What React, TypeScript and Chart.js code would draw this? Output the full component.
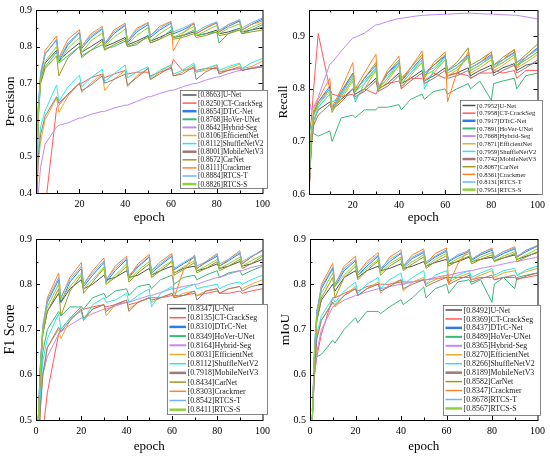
import { useEffect, useRef } from 'react'
import { Chart, registerables } from 'chart.js'

Chart.register(...registerables)

const epochs = [1, 2, 3, 5, 10, 11, 15, 20, 21, 25, 30, 31, 35, 40, 41, 45, 50, 51, 55, 60, 61, 65, 70, 71, 75, 80, 81, 85, 90, 91, 95, 100]

const models = ['U-Net', 'CT-CrackSeg', 'DTrC-Net', 'HoVer-UNet', 'Hybrid-Seg', 'EfficientNet', 'ShuffleNetV2', 'MobileNetV3', 'CarNet', 'Crackmer', 'RTCS-T', 'RTCS-S']

const seriesColors = ['#505050', '#ff5a5a', '#2f7ce8', '#3cb878', '#c08af0', '#e3ae2f', '#2ee6e6', '#a07878', '#9a9a22', '#ff8426', '#72b4f2', '#8ed23a']
const legendWidths = [1.5, 1.5, 2.5, 2, 2, 1.5, 1.5, 2.5, 1.5, 1.5, 1.5, 2.5]

const precisionScores = ['0.8663', '0.8250', '0.8654', '0.8768', '0.8642', '0.8106', '0.8112', '0.8001', '0.8672', '0.8111', '0.8884', '0.8826']
const recallScores = ['0.7952', '0.7958', '0.7917', '0.7891', '0.7668', '0.7871', '0.7959', '0.7742', '0.8087', '0.8361', '0.8131', '0.7951']
const f1Scores = ['0.8347', '0.8135', '0.8310', '0.8349', '0.8164', '0.8031', '0.8112', '0.7918', '0.8434', '0.8303', '0.8542', '0.8411']
const miouScores = ['0.8492', '0.8369', '0.8437', '0.8489', '0.8365', '0.8270', '0.8266', '0.8189', '0.8582', '0.8347', '0.8678', '0.8567']

// Precision
const pUNet = [0.38, 0.63, 0.71, 0.755, 0.79, 0.76, 0.785, 0.81, 0.785, 0.8, 0.82, 0.8, 0.81, 0.825, 0.805, 0.815, 0.83, 0.815, 0.825, 0.84, 0.825, 0.83, 0.84, 0.83, 0.835, 0.845, 0.835, 0.84, 0.85, 0.84, 0.845, 0.852]
const pCTCrackSeg = [0.2, 0.25, 0.3, 0.36, 0.632, 0.64, 0.67, 0.7, 0.7, 0.715, 0.725, 0.715, 0.725, 0.735, 0.725, 0.73, 0.73, 0.72, 0.73, 0.74, 0.765, 0.735, 0.74, 0.735, 0.74, 0.74, 0.73, 0.735, 0.74, 0.735, 0.74, 0.745]
const pDTrCNet = [0.38, 0.63, 0.72, 0.78, 0.818, 0.76, 0.805, 0.838, 0.795, 0.825, 0.848, 0.805, 0.835, 0.858, 0.81, 0.84, 0.86, 0.825, 0.845, 0.864, 0.835, 0.845, 0.862, 0.835, 0.85, 0.865, 0.84, 0.855, 0.87, 0.845, 0.86, 0.875]
const pHoVerUNet = [0.38, 0.6, 0.7, 0.745, 0.785, 0.755, 0.775, 0.8, 0.775, 0.79, 0.805, 0.795, 0.8, 0.815, 0.8, 0.805, 0.83, 0.81, 0.82, 0.845, 0.825, 0.83, 0.845, 0.83, 0.835, 0.84, 0.81, 0.835, 0.85, 0.835, 0.845, 0.86]
const pHybridSeg = [0.3, 0.4, 0.47, 0.534, 0.58, 0.585, 0.592, 0.605, 0.605, 0.615, 0.623, 0.623, 0.632, 0.64, 0.64, 0.65, 0.663, 0.663, 0.672, 0.681, 0.681, 0.69, 0.699, 0.699, 0.708, 0.717, 0.717, 0.726, 0.735, 0.735, 0.742, 0.748]
const pEfficientNet = [0.33, 0.48, 0.54, 0.6, 0.66, 0.62, 0.665, 0.7, 0.675, 0.7, 0.725, 0.68, 0.71, 0.735, 0.69, 0.72, 0.74, 0.71, 0.73, 0.75, 0.72, 0.73, 0.75, 0.73, 0.735, 0.75, 0.73, 0.74, 0.752, 0.74, 0.745, 0.76]
const pShuffleNetV2 = [0.35, 0.52, 0.58, 0.625, 0.695, 0.65, 0.69, 0.722, 0.69, 0.715, 0.738, 0.705, 0.725, 0.75, 0.715, 0.73, 0.745, 0.715, 0.735, 0.75, 0.725, 0.735, 0.755, 0.73, 0.74, 0.75, 0.735, 0.745, 0.755, 0.74, 0.755, 0.768]
const pMobileNetV3 = [0.34, 0.5, 0.56, 0.61, 0.663, 0.645, 0.67, 0.7, 0.68, 0.695, 0.72, 0.7, 0.71, 0.725, 0.695, 0.715, 0.74, 0.71, 0.725, 0.745, 0.72, 0.725, 0.745, 0.71, 0.73, 0.745, 0.725, 0.735, 0.745, 0.735, 0.74, 0.745]
const pCarNet = [0.38, 0.61, 0.7, 0.74, 0.775, 0.72, 0.77, 0.8, 0.77, 0.79, 0.815, 0.79, 0.805, 0.82, 0.8, 0.81, 0.825, 0.81, 0.82, 0.835, 0.82, 0.825, 0.835, 0.825, 0.83, 0.84, 0.83, 0.835, 0.845, 0.835, 0.84, 0.845]
const pCrackmer = [0.38, 0.62, 0.72, 0.79, 0.829, 0.77, 0.82, 0.846, 0.8, 0.835, 0.855, 0.805, 0.845, 0.864, 0.815, 0.85, 0.866, 0.83, 0.855, 0.869, 0.788, 0.835, 0.864, 0.835, 0.85, 0.866, 0.84, 0.86, 0.872, 0.845, 0.86, 0.87]
const pRTCST = [0.38, 0.64, 0.73, 0.78, 0.82, 0.765, 0.81, 0.84, 0.8, 0.83, 0.85, 0.81, 0.84, 0.86, 0.815, 0.845, 0.865, 0.83, 0.85, 0.868, 0.84, 0.85, 0.865, 0.84, 0.855, 0.868, 0.845, 0.86, 0.874, 0.85, 0.865, 0.878]
const pRTCSS = [0.38, 0.62, 0.71, 0.76, 0.8, 0.755, 0.795, 0.825, 0.785, 0.815, 0.838, 0.8, 0.825, 0.848, 0.805, 0.83, 0.852, 0.815, 0.835, 0.855, 0.825, 0.838, 0.855, 0.83, 0.842, 0.858, 0.835, 0.85, 0.862, 0.84, 0.852, 0.865]

// Recall
const rUNet = [0.6, 0.7, 0.74, 0.76, 0.775, 0.765, 0.78, 0.8, 0.79, 0.8, 0.82, 0.8, 0.81, 0.83, 0.81, 0.82, 0.835, 0.815, 0.825, 0.84, 0.825, 0.83, 0.84, 0.825, 0.835, 0.845, 0.83, 0.84, 0.848, 0.835, 0.845, 0.85]
const rCTCrackSeg = [0.72, 0.74, 0.8, 0.905, 0.8, 0.79, 0.785, 0.79, 0.78, 0.8, 0.79, 0.8, 0.81, 0.815, 0.805, 0.82, 0.82, 0.815, 0.83, 0.82, 0.825, 0.83, 0.825, 0.82, 0.83, 0.83, 0.835, 0.83, 0.835, 0.82, 0.835, 0.835]
const rDTrCNet = [0.61, 0.71, 0.75, 0.775, 0.805, 0.76, 0.795, 0.83, 0.795, 0.82, 0.845, 0.8, 0.83, 0.85, 0.815, 0.835, 0.86, 0.825, 0.845, 0.862, 0.835, 0.845, 0.865, 0.84, 0.85, 0.865, 0.845, 0.855, 0.87, 0.845, 0.86, 0.878]
const rHoVerUNet = [0.74, 0.72, 0.715, 0.71, 0.72, 0.7, 0.745, 0.75, 0.745, 0.76, 0.76, 0.765, 0.765, 0.77, 0.76, 0.78, 0.79, 0.78, 0.795, 0.8, 0.79, 0.8, 0.81, 0.8, 0.815, 0.778, 0.81, 0.815, 0.82, 0.8, 0.825, 0.83]
const rHybridSeg = [0.78, 0.76, 0.765, 0.784, 0.847, 0.85, 0.872, 0.897, 0.898, 0.906, 0.922, 0.922, 0.928, 0.934, 0.934, 0.937, 0.94, 0.94, 0.941, 0.942, 0.942, 0.943, 0.944, 0.944, 0.943, 0.942, 0.942, 0.941, 0.94, 0.94, 0.937, 0.933]
const rEfficientNet = [0.6, 0.69, 0.73, 0.765, 0.79, 0.76, 0.78, 0.815, 0.78, 0.8, 0.835, 0.795, 0.815, 0.845, 0.8, 0.825, 0.85, 0.815, 0.83, 0.855, 0.825, 0.835, 0.86, 0.83, 0.84, 0.855, 0.835, 0.845, 0.86, 0.84, 0.85, 0.865]
const rShuffleNetV2 = [0.6, 0.7, 0.74, 0.765, 0.79, 0.775, 0.785, 0.82, 0.775, 0.81, 0.84, 0.8, 0.82, 0.85, 0.81, 0.83, 0.855, 0.8, 0.835, 0.86, 0.83, 0.84, 0.86, 0.835, 0.845, 0.862, 0.84, 0.85, 0.865, 0.845, 0.855, 0.87]
const rMobileNetV3 = [0.6, 0.69, 0.73, 0.75, 0.77, 0.76, 0.775, 0.8, 0.785, 0.795, 0.815, 0.795, 0.805, 0.825, 0.8, 0.815, 0.83, 0.81, 0.82, 0.835, 0.82, 0.825, 0.835, 0.82, 0.83, 0.84, 0.825, 0.835, 0.845, 0.83, 0.84, 0.855]
const rCarNet = [0.62, 0.72, 0.755, 0.775, 0.8, 0.755, 0.79, 0.83, 0.795, 0.82, 0.85, 0.8, 0.83, 0.855, 0.815, 0.84, 0.865, 0.83, 0.845, 0.865, 0.835, 0.85, 0.878, 0.845, 0.855, 0.87, 0.845, 0.86, 0.875, 0.85, 0.865, 0.885]
const rCrackmer = [0.6, 0.7, 0.76, 0.78, 0.82, 0.765, 0.8, 0.85, 0.8, 0.83, 0.866, 0.8, 0.835, 0.862, 0.82, 0.84, 0.872, 0.82, 0.85, 0.87, 0.775, 0.83, 0.87, 0.84, 0.85, 0.87, 0.84, 0.855, 0.875, 0.84, 0.86, 0.875]
const rRTCST = [0.61, 0.71, 0.75, 0.77, 0.8, 0.76, 0.79, 0.825, 0.8, 0.815, 0.84, 0.805, 0.825, 0.85, 0.82, 0.835, 0.855, 0.83, 0.84, 0.86, 0.835, 0.845, 0.862, 0.84, 0.85, 0.862, 0.845, 0.855, 0.868, 0.85, 0.86, 0.875]
const rRTCSS = [0.62, 0.72, 0.75, 0.77, 0.795, 0.76, 0.785, 0.82, 0.795, 0.81, 0.835, 0.8, 0.82, 0.845, 0.81, 0.83, 0.85, 0.825, 0.835, 0.855, 0.83, 0.84, 0.86, 0.835, 0.845, 0.86, 0.84, 0.85, 0.865, 0.845, 0.855, 0.87]

// F1 Score
const fUNet = [0.5, 0.62, 0.69, 0.74, 0.78, 0.76, 0.79, 0.81, 0.79, 0.8, 0.82, 0.81, 0.815, 0.83, 0.815, 0.82, 0.835, 0.82, 0.83, 0.84, 0.825, 0.835, 0.84, 0.83, 0.835, 0.845, 0.835, 0.84, 0.85, 0.84, 0.845, 0.855]
const fCTCrackSeg = [0.3, 0.4, 0.47, 0.56, 0.69, 0.7, 0.725, 0.75, 0.745, 0.75, 0.755, 0.75, 0.755, 0.76, 0.755, 0.76, 0.77, 0.77, 0.77, 0.775, 0.775, 0.775, 0.78, 0.775, 0.78, 0.785, 0.78, 0.78, 0.785, 0.78, 0.785, 0.79]
const fDTrCNet = [0.5, 0.63, 0.7, 0.76, 0.81, 0.76, 0.805, 0.835, 0.795, 0.82, 0.848, 0.805, 0.83, 0.855, 0.815, 0.838, 0.86, 0.825, 0.842, 0.862, 0.832, 0.845, 0.86, 0.835, 0.848, 0.862, 0.84, 0.852, 0.868, 0.845, 0.86, 0.876]
const fHoVerUNet = [0.48, 0.58, 0.65, 0.7, 0.74, 0.73, 0.75, 0.75, 0.745, 0.77, 0.78, 0.77, 0.785, 0.79, 0.775, 0.795, 0.8, 0.79, 0.81, 0.82, 0.8, 0.815, 0.82, 0.81, 0.82, 0.83, 0.815, 0.825, 0.83, 0.82, 0.83, 0.84]
const fHybridSeg = [0.45, 0.55, 0.6, 0.64, 0.69, 0.695, 0.71, 0.725, 0.725, 0.735, 0.745, 0.745, 0.752, 0.76, 0.76, 0.767, 0.775, 0.775, 0.782, 0.79, 0.79, 0.795, 0.8, 0.8, 0.807, 0.815, 0.815, 0.822, 0.83, 0.83, 0.837, 0.843]
const fEfficientNet = [0.42, 0.53, 0.6, 0.66, 0.7, 0.68, 0.72, 0.745, 0.72, 0.745, 0.755, 0.73, 0.755, 0.765, 0.745, 0.76, 0.77, 0.76, 0.77, 0.78, 0.77, 0.78, 0.785, 0.775, 0.785, 0.79, 0.78, 0.79, 0.795, 0.79, 0.8, 0.81]
const fShuffleNetV2 = [0.45, 0.56, 0.63, 0.68, 0.735, 0.7, 0.725, 0.74, 0.72, 0.755, 0.77, 0.76, 0.765, 0.78, 0.76, 0.775, 0.79, 0.75, 0.78, 0.795, 0.78, 0.79, 0.8, 0.79, 0.795, 0.8, 0.79, 0.8, 0.805, 0.8, 0.81, 0.82]
const fMobileNetV3 = [0.42, 0.53, 0.6, 0.66, 0.705, 0.695, 0.72, 0.745, 0.725, 0.745, 0.755, 0.74, 0.755, 0.765, 0.74, 0.76, 0.77, 0.765, 0.77, 0.78, 0.77, 0.775, 0.785, 0.765, 0.785, 0.79, 0.78, 0.79, 0.795, 0.785, 0.795, 0.8]
const fCarNet = [0.5, 0.61, 0.69, 0.74, 0.79, 0.73, 0.785, 0.82, 0.78, 0.805, 0.835, 0.8, 0.815, 0.84, 0.805, 0.825, 0.845, 0.815, 0.83, 0.85, 0.82, 0.832, 0.848, 0.825, 0.835, 0.85, 0.83, 0.84, 0.855, 0.835, 0.845, 0.862]
const fCrackmer = [0.5, 0.62, 0.7, 0.77, 0.825, 0.77, 0.815, 0.848, 0.8, 0.83, 0.858, 0.81, 0.84, 0.862, 0.815, 0.845, 0.866, 0.83, 0.85, 0.868, 0.77, 0.83, 0.865, 0.835, 0.85, 0.868, 0.84, 0.855, 0.874, 0.845, 0.86, 0.875]
const fRTCST = [0.5, 0.63, 0.71, 0.765, 0.815, 0.77, 0.81, 0.84, 0.8, 0.825, 0.852, 0.81, 0.835, 0.858, 0.82, 0.84, 0.862, 0.83, 0.845, 0.865, 0.835, 0.848, 0.862, 0.84, 0.85, 0.865, 0.845, 0.855, 0.87, 0.85, 0.862, 0.873]
const fRTCSS = [0.5, 0.62, 0.7, 0.75, 0.8, 0.765, 0.795, 0.825, 0.79, 0.81, 0.838, 0.8, 0.82, 0.845, 0.81, 0.83, 0.85, 0.82, 0.835, 0.852, 0.825, 0.838, 0.852, 0.83, 0.84, 0.855, 0.835, 0.845, 0.86, 0.84, 0.852, 0.865]

// mIoU
const mUNet = [0.5, 0.64, 0.72, 0.765, 0.8, 0.785, 0.815, 0.83, 0.815, 0.83, 0.84, 0.83, 0.835, 0.845, 0.835, 0.84, 0.85, 0.84, 0.848, 0.855, 0.845, 0.85, 0.86, 0.85, 0.855, 0.86, 0.852, 0.858, 0.865, 0.855, 0.862, 0.87]
const mCTCrackSeg = [0.52, 0.6, 0.64, 0.69, 0.77, 0.77, 0.78, 0.79, 0.785, 0.795, 0.8, 0.8, 0.8, 0.805, 0.805, 0.805, 0.81, 0.81, 0.812, 0.815, 0.815, 0.815, 0.815, 0.81, 0.815, 0.815, 0.81, 0.815, 0.815, 0.812, 0.815, 0.82]
const mDTrCNet = [0.5, 0.66, 0.74, 0.79, 0.835, 0.795, 0.83, 0.852, 0.82, 0.84, 0.862, 0.83, 0.85, 0.868, 0.838, 0.857, 0.87, 0.845, 0.86, 0.873, 0.85, 0.862, 0.872, 0.853, 0.865, 0.875, 0.857, 0.868, 0.878, 0.86, 0.872, 0.884]
const mHoVerUNet = [0.52, 0.63, 0.64, 0.645, 0.676, 0.67, 0.7, 0.726, 0.715, 0.74, 0.74, 0.735, 0.75, 0.766, 0.755, 0.77, 0.794, 0.77, 0.79, 0.8, 0.78, 0.805, 0.81, 0.8, 0.81, 0.76, 0.8, 0.815, 0.79, 0.815, 0.82, 0.825]
const mHybridSeg = [0.5, 0.6, 0.65, 0.7, 0.75, 0.752, 0.765, 0.775, 0.776, 0.783, 0.79, 0.79, 0.795, 0.8, 0.8, 0.805, 0.81, 0.81, 0.815, 0.82, 0.82, 0.825, 0.83, 0.83, 0.835, 0.84, 0.84, 0.845, 0.85, 0.85, 0.855, 0.86]
const mEfficientNet = [0.5, 0.61, 0.68, 0.72, 0.76, 0.75, 0.775, 0.795, 0.775, 0.79, 0.805, 0.78, 0.8, 0.81, 0.785, 0.805, 0.815, 0.8, 0.81, 0.82, 0.805, 0.815, 0.825, 0.81, 0.82, 0.83, 0.815, 0.825, 0.83, 0.82, 0.828, 0.835]
const mShuffleNetV2 = [0.5, 0.62, 0.69, 0.73, 0.77, 0.76, 0.785, 0.805, 0.78, 0.8, 0.815, 0.79, 0.81, 0.825, 0.8, 0.815, 0.83, 0.8, 0.82, 0.83, 0.81, 0.82, 0.83, 0.815, 0.825, 0.835, 0.82, 0.83, 0.835, 0.82, 0.832, 0.84]
const mMobileNetV3 = [0.5, 0.61, 0.68, 0.72, 0.76, 0.755, 0.775, 0.79, 0.775, 0.79, 0.8, 0.785, 0.795, 0.81, 0.79, 0.8, 0.81, 0.795, 0.805, 0.815, 0.8, 0.81, 0.82, 0.805, 0.812, 0.82, 0.81, 0.815, 0.82, 0.81, 0.818, 0.825]
const mCarNet = [0.5, 0.64, 0.72, 0.77, 0.815, 0.77, 0.815, 0.84, 0.81, 0.83, 0.852, 0.82, 0.84, 0.856, 0.83, 0.845, 0.86, 0.835, 0.85, 0.863, 0.84, 0.852, 0.862, 0.845, 0.855, 0.865, 0.85, 0.858, 0.868, 0.85, 0.86, 0.872]
const mCrackmer = [0.5, 0.65, 0.73, 0.8, 0.846, 0.8, 0.84, 0.862, 0.825, 0.85, 0.87, 0.83, 0.86, 0.876, 0.84, 0.865, 0.878, 0.845, 0.868, 0.88, 0.8, 0.845, 0.878, 0.855, 0.868, 0.88, 0.86, 0.872, 0.883, 0.86, 0.875, 0.886]
const mRTCST = [0.5, 0.66, 0.74, 0.795, 0.838, 0.8, 0.835, 0.855, 0.825, 0.845, 0.865, 0.835, 0.855, 0.87, 0.84, 0.86, 0.873, 0.85, 0.862, 0.876, 0.852, 0.865, 0.875, 0.855, 0.868, 0.878, 0.86, 0.872, 0.88, 0.862, 0.875, 0.885]
const mRTCSS = [0.5, 0.65, 0.73, 0.78, 0.825, 0.795, 0.82, 0.845, 0.82, 0.835, 0.855, 0.825, 0.845, 0.86, 0.835, 0.85, 0.865, 0.84, 0.855, 0.868, 0.845, 0.857, 0.868, 0.848, 0.86, 0.87, 0.852, 0.862, 0.872, 0.855, 0.865, 0.878]

const xTicksFrom1 = [20, 40, 60, 80, 100]
const xTicksFrom0 = [0, 20, 40, 60, 80, 100]
const xMarks = [10, 20, 30, 40, 50, 60, 70, 80, 90]

const SERIF = "'Liberation Serif', 'Times New Roman', serif"
const W = 275
const H = 229

interface Panel {
  title: string
  titleSize: number
  titlePad: number
  series: number[][]
  scores: string[]
  yMin: number
  yMax: number
  yTicks: number[]
  yMinor: number[]
  xMin: number
  xTicks: number[]
  area: { left: number; top: number; right: number; bottom: number }
  legend: { left: number; top: number; width: number; height: number; row: number; first: number; font: number; lineLen: number }
}

const panels: Panel[] = [
  {
    title: 'Precision', titleSize: 13.5, titlePad: 2,
    series: [pUNet, pCTCrackSeg, pDTrCNet, pHoVerUNet, pHybridSeg, pEfficientNet, pShuffleNetV2, pMobileNetV3, pCarNet, pCrackmer, pRTCST, pRTCSS],
    scores: precisionScores,
    yMin: 0.4, yMax: 0.9, yTicks: [0.4, 0.5, 0.6, 0.7, 0.8, 0.9], yMinor: [0.45, 0.55, 0.65, 0.75, 0.85],
    xMin: 1, xTicks: xTicksFrom1,
    area: { left: 36, top: 7, right: 267, bottom: 193 },
    legend: { left: 180, top: 90, width: 87, height: 98, row: 8.1, first: 5, font: 7.3, lineLen: 14 },
  },
  {
    title: 'Recall', titleSize: 13, titlePad: 1,
    series: [rUNet, rCTCrackSeg, rDTrCNet, rHoVerUNet, rHybridSeg, rEfficientNet, rShuffleNetV2, rMobileNetV3, rCarNet, rCrackmer, rRTCST, rRTCSS],
    scores: recallScores,
    yMin: 0.6, yMax: 0.95, yTicks: [0.6, 0.7, 0.8, 0.9], yMinor: [0.65, 0.75, 0.85],
    xMin: 1, xTicks: xTicksFrom1,
    area: { left: 34, top: 8, right: 267, bottom: 194 },
    legend: { left: 185, top: 100, width: 82, height: 94, row: 7.65, first: 5.5, font: 6.6, lineLen: 13 },
  },
  {
    title: 'F1 Score', titleSize: 14, titlePad: 2,
    series: [fUNet, fCTCrackSeg, fDTrCNet, fHoVerUNet, fHybridSeg, fEfficientNet, fShuffleNetV2, fMobileNetV3, fCarNet, fCrackmer, fRTCST, fRTCSS],
    scores: f1Scores,
    yMin: 0.5, yMax: 0.9, yTicks: [0.5, 0.6, 0.7, 0.8, 0.9], yMinor: [0.55, 0.65, 0.75, 0.85],
    xMin: 0, xTicks: xTicksFrom0,
    area: { left: 36, top: 4, right: 267, bottom: 191 },
    legend: { left: 167, top: 75, width: 100, height: 110, row: 9.2, first: 4.5, font: 7.9, lineLen: 16.5 },
  },
  {
    title: 'mIoU', titleSize: 13.5, titlePad: 2,
    series: [mUNet, mCTCrackSeg, mDTrCNet, mHoVerUNet, mHybridSeg, mEfficientNet, mShuffleNetV2, mMobileNetV3, mCarNet, mCrackmer, mRTCST, mRTCSS],
    scores: miouScores,
    yMin: 0.5, yMax: 0.9, yTicks: [0.5, 0.6, 0.7, 0.8, 0.9], yMinor: [0.55, 0.65, 0.75, 0.85],
    xMin: 0, xTicks: xTicksFrom0,
    area: { left: 35, top: 4, right: 266, bottom: 191 },
    legend: { left: 168, top: 76, width: 97, height: 110, row: 8.95, first: 5, font: 7.9, lineLen: 16.5 },
  },
]

// box around the plot with inward ticks on all four sides
function framePlugin(panel: Panel) {
  return {
    id: 'frame',
    afterDatasetsDraw(chart: any) {
      const { ctx, chartArea: a, scales } = chart
      ctx.save()
      ctx.strokeStyle = '#000'
      ctx.lineWidth = 1
      ctx.strokeRect(a.left + 0.5, a.top + 0.5, a.right - a.left, a.bottom - a.top)
      ctx.beginPath()
      xMarks.forEach((v) => {
        const px = Math.round(scales.x.getPixelForValue(v)) + 0.5
        const len = v % 20 === 0 ? 4 : 2.5
        ctx.moveTo(px, a.bottom)
        ctx.lineTo(px, a.bottom - len)
        ctx.moveTo(px, a.top)
        ctx.lineTo(px, a.top + len)
      })
      const marks = [...panel.yTicks.map((v) => [v, 4]), ...panel.yMinor.map((v) => [v, 2.5])]
      marks.forEach(([v, len]) => {
        const py = Math.round(scales.y.getPixelForValue(v)) + 0.5
        ctx.moveTo(a.left, py)
        ctx.lineTo(a.left + len, py)
        ctx.moveTo(a.right, py)
        ctx.lineTo(a.right - len, py)
      })
      ctx.stroke()
      ctx.restore()
    },
  }
}

function legendPlugin(panel: Panel) {
  return {
    id: 'boxLegend',
    afterDraw(chart: any) {
      const { ctx } = chart
      const o = panel.legend
      ctx.save()
      ctx.fillStyle = '#fff'
      ctx.fillRect(o.left, o.top, o.width, o.height)
      ctx.strokeStyle = '#666'
      ctx.lineWidth = 0.8
      ctx.strokeRect(o.left + 0.5, o.top + 0.5, o.width, o.height)
      ctx.font = `${o.font}px ${SERIF}`
      ctx.textBaseline = 'middle'
      ctx.textAlign = 'left'
      const textX = o.left + 4 + o.lineLen
      models.forEach((name, i) => {
        const cy = o.top + o.first + o.row * i
        ctx.strokeStyle = seriesColors[i]
        ctx.lineWidth = legendWidths[i]
        ctx.beginPath()
        ctx.moveTo(o.left + 2.5, cy)
        ctx.lineTo(o.left + 2.5 + o.lineLen, cy)
        ctx.stroke()
        ctx.fillStyle = '#222'
        ctx.fillText(`[${panel.scores[i]}]${name}`, textX, cy + 0.5, o.left + o.width - textX - 2)
      })
      ctx.restore()
    },
  }
}

function MetricChart({ panel }: { panel: Panel }) {
  const chartRef = useRef<HTMLCanvasElement>(null)

  useEffect(() => {
    if (!chartRef.current) return
    const { area } = panel
    const chart = new Chart(chartRef.current, {
      type: 'line',
      data: {
        datasets: panel.series.map((vals, i) => ({
          label: models[i],
          data: vals.map((v, j) => ({ x: epochs[j], y: v })),
          borderColor: seriesColors[i],
          backgroundColor: seriesColors[i],
          borderWidth: 1,
          pointRadius: 0,
          tension: 0,
          fill: false,
          order: models.length - i,
        })),
      },
      options: {
        animation: false,
        responsive: true,
        maintainAspectRatio: false,
        layout: { padding: { left: 0, top: area.top, right: W - area.right, bottom: 0 } },
        plugins: { legend: { display: false }, tooltip: { enabled: false } },
        scales: {
          x: {
            type: 'linear',
            min: panel.xMin,
            max: 100,
            grid: { display: false, drawTicks: false },
            border: { display: false },
            afterBuildTicks: (s: any) => {
              s.ticks = panel.xTicks.map((v) => ({ value: v }))
            },
            afterFit: (s: any) => {
              s.height = H - area.bottom
            },
            ticks: {
              color: '#000',
              font: { family: SERIF, size: 10 },
              padding: 5,
              maxRotation: 0,
              autoSkip: false,
            },
            title: {
              display: true,
              text: 'epoch',
              color: '#000',
              font: { family: SERIF, size: 13, lineHeight: 1.2 },
              padding: { top: 0, bottom: 4 },
            },
          },
          y: {
            type: 'linear',
            min: panel.yMin,
            max: panel.yMax,
            grid: { display: false, drawTicks: false },
            border: { display: false },
            afterBuildTicks: (s: any) => {
              s.ticks = panel.yTicks.map((v) => ({ value: v }))
            },
            afterFit: (s: any) => {
              s.width = area.left
            },
            ticks: {
              color: '#000',
              font: { family: SERIF, size: 10 },
              padding: 4,
              callback: (v: any) => Number(v).toFixed(1),
            },
            title: {
              display: true,
              text: panel.title,
              color: '#000',
              font: { family: SERIF, size: panel.titleSize, lineHeight: 1.2 },
              padding: { top: panel.titlePad, bottom: 0 },
            },
          },
        },
      },
      plugins: [framePlugin(panel), legendPlugin(panel)],
    })

    return () => {
      chart.destroy()
    }
  }, [panel])

  return <canvas ref={chartRef}></canvas>
}

export default function App() {
  return (
    <div style={{ position: 'absolute', left: 0, top: 0, width: 2 * W, height: 2 * H, background: '#fff' }}>
      {panels.map((panel, i) => (
        <div
          key={panel.title}
          style={{ position: 'absolute', left: (i % 2) * W, top: Math.floor(i / 2) * H, width: W, height: H }}
        >
          <MetricChart panel={panel} />
        </div>
      ))}
    </div>
  )
}
